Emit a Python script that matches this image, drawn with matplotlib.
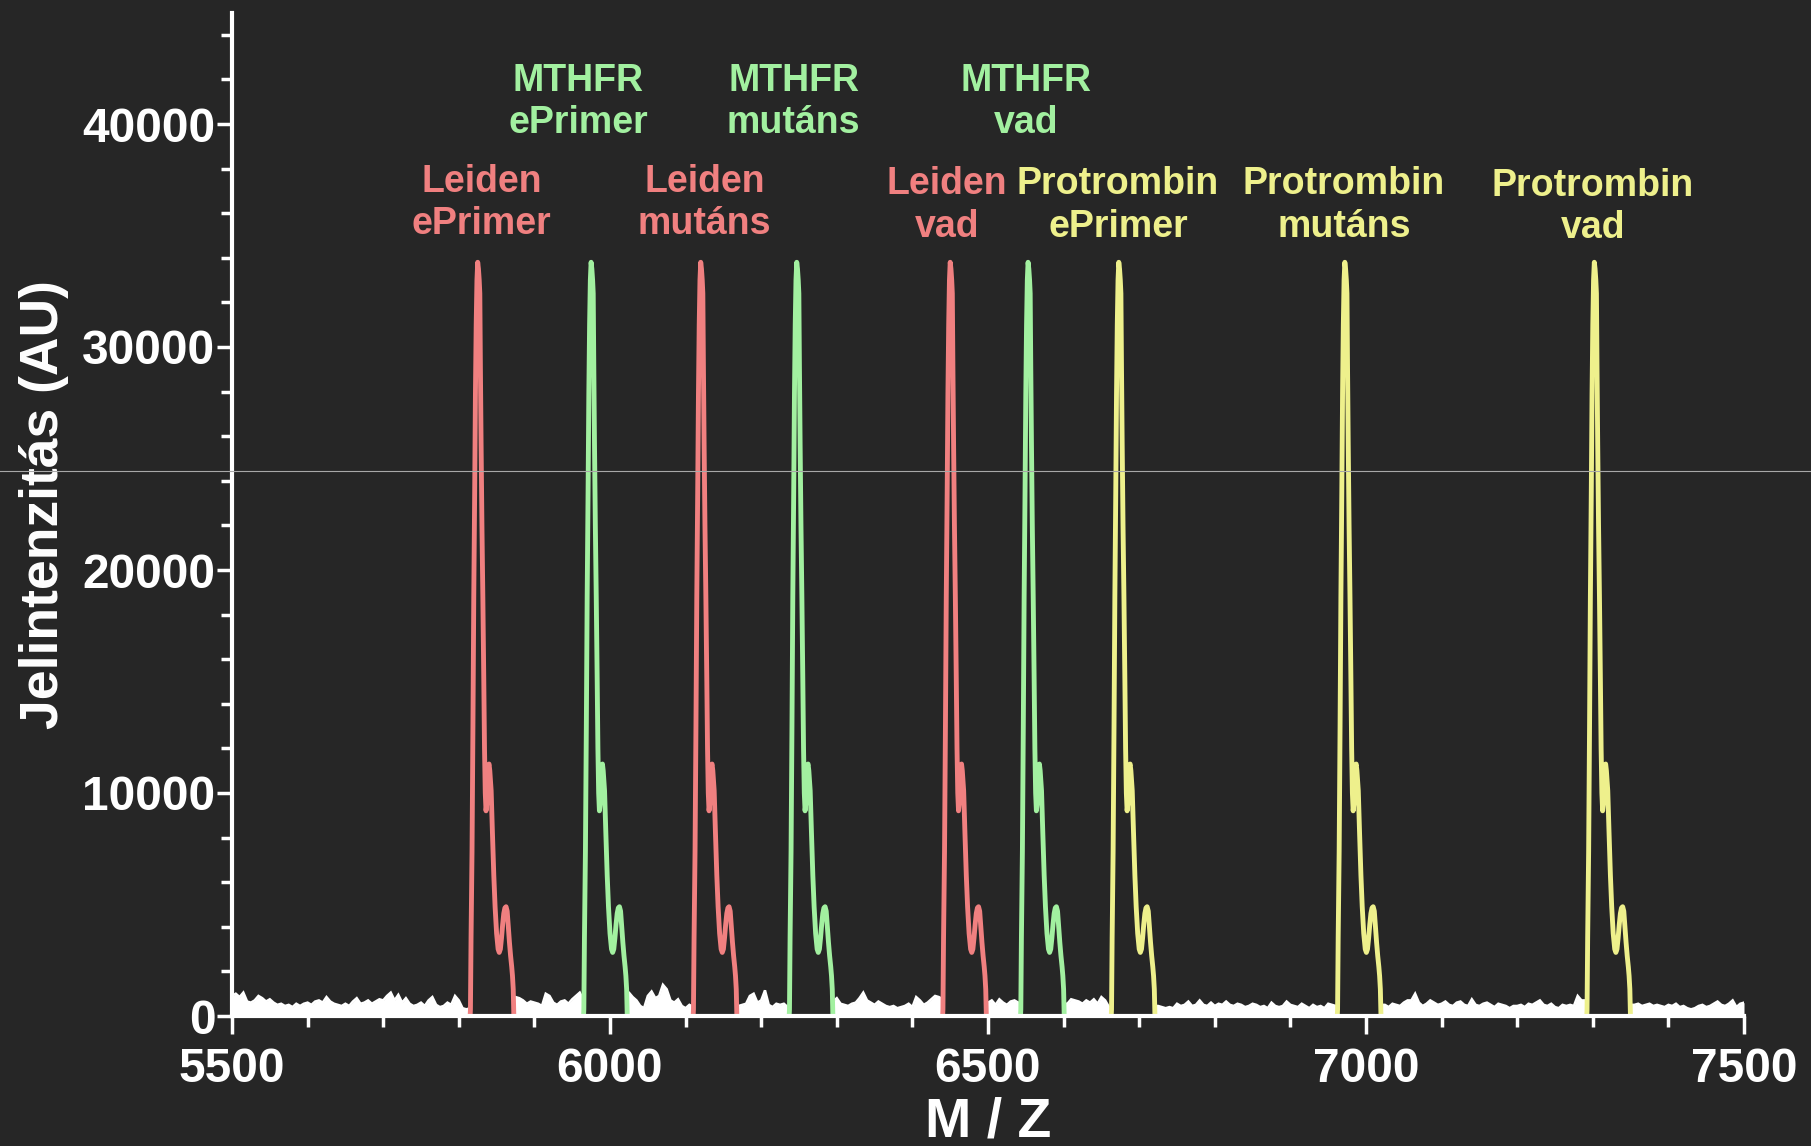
import matplotlib
matplotlib.use("Agg")
import matplotlib.pyplot as plt
from matplotlib.lines import Line2D
from matplotlib.ticker import MultipleLocator
import numpy as np

plt.rcParams["font.family"] = ["Liberation Sans", "DejaVu Sans"]
plt.rcParams["font.weight"] = "bold"

# ---- data -------------------------------------------------------------
# apex position (m/z) of every extension product
PEAK_MZ = [5825, 5975, 6120, 6247, 6450, 6553, 6673, 6972, 7302]
PEAK_NAMES = ["Leiden\nePrimer", "MTHFR\nePrimer", "Leiden\nmutáns",
              "MTHFR\nmutáns", "Leiden\nvad", "MTHFR\nvad",
              "Protrombin\nePrimer", "Protrombin\nmutáns", "Protrombin\nvad"]
PEAK_GROUP = ["Leiden", "MTHFR", "Leiden", "MTHFR", "Leiden", "MTHFR",
              "Protrombin", "Protrombin", "Protrombin"]

# common peak shape: offset from apex (m/z) and signal (AU)
PROFILE_DMZ = [-10.0, -9.6, -8.8, -7.5, -6.3, -5.2, -4.0, -3.0, -2.0, -1.0,
               0.0, 1.0, 2.0, 2.8, 3.6, 4.5, 5.6, 6.8, 8.0, 9.0, 10.0, 11.0,
               12.0, 13.0, 14.0, 15.0, 16.0, 17.0, 17.8, 19.5, 21.3, 23.0,
               25.0, 27.0, 28.5, 30.0, 31.5, 33.0, 34.5, 36.0, 37.5, 39.0,
               40.5, 42.0, 43.5, 45.0, 46.0, 47.0, 47.8]
PROFILE_AU = [0, 300, 3500, 7400, 13000, 18800, 23500, 27900, 31000, 33000,
              33800, 33500, 33000, 32400, 29000, 25600, 22000, 18800, 15200,
              12000, 10000, 9200, 9500, 10600, 11200, 11300, 11000, 10500,
              10100, 8200, 6300, 4900, 3700, 3000, 2850, 3000, 3500, 4100,
              4600, 4850, 4900, 4700, 4000, 3300, 2700, 2200, 1800, 1200, 0]

# baseline noise (AU) between the peaks, one value every 5 m/z
NOISE_STEP = 5
NOISE_START = [5500, 5875, 6025, 6170, 6295, 6500, 6605, 6725, 7025, 7355]
NOISE_A = [900, 1000, 850, 1050, 650, 600, 700, 900, 800, 650, 750, 600, 500,
           550, 450, 500, 400, 550, 450, 550, 600, 500, 650, 700, 600, 850,
           650, 550, 500, 450, 550, 450, 650, 800, 550, 600, 700, 550, 650,
           750, 700, 900, 1050, 700, 950, 600, 800, 550, 450, 500, 600, 450,
           700, 850, 500, 400, 450, 600, 500, 900, 700, 350, 300, 350]
NOISE_B = [850, 800, 700, 550, 650, 600, 550, 450, 1000, 900, 600, 500, 650,
           700, 550, 750, 900, 1050, 700]
NOISE_C = [1050, 850, 700, 450, 350, 900, 1100, 800, 900, 1400, 1200, 700,
           600, 750, 450, 350, 500, 400]
NOISE_D = [450, 500, 550, 900, 1000, 600, 700, 1150, 500, 400, 550, 500,
           550, 400]
NOISE_E = [650, 800, 550, 500, 450, 550, 600, 800, 1050, 700, 600, 500, 650,
           550, 450, 400, 450, 350, 400, 450, 550, 400, 850, 700, 500, 600,
           750, 900, 850, 750]
NOISE_F = [600, 700, 500, 750, 600, 500, 650, 700, 600]
NOISE_G = [550, 750, 700, 650, 550, 700, 600, 750, 550, 850, 700, 400]
NOISE_H = [450, 400, 350, 400, 350, 550, 450, 500, 650, 450, 500, 700, 500,
           450, 600, 450, 550, 500, 650, 500, 450, 550, 500, 400, 450, 550,
           500, 400, 450, 350, 600, 450, 400, 450, 650, 500, 450, 400, 550,
           450, 350, 500, 400, 450, 350, 550, 500, 450]
NOISE_I = [500, 400, 550, 500, 450, 600, 700, 700, 1000, 600, 450, 550, 700,
           600, 500, 550, 650, 500, 450, 600, 650, 500, 450, 750, 500, 450,
           550, 600, 500, 400, 550, 500, 450, 350, 450, 450, 500, 400, 550,
           500, 600, 700, 500, 450, 550, 400, 350, 500, 450, 500, 450, 900,
           700]
NOISE_J = [500, 550, 450, 500, 550, 450, 500, 450, 400, 500, 450, 550, 400,
           450, 350, 300, 350, 450, 500, 400, 450, 550, 650, 500, 450, 550,
           700, 400, 550, 600]
NOISE_VALUES = [NOISE_A, NOISE_B, NOISE_C, NOISE_D, NOISE_E, NOISE_F,
                NOISE_G, NOISE_H, NOISE_I, NOISE_J]

X_TICKS = [5500, 6000, 6500, 7000, 7500]
Y_TICKS = [0, 10000, 20000, 30000, 40000]

# ---- styling ----------------------------------------------------------
BG = "#262626"
GROUP_COLOR = {"Leiden": "#F08080", "MTHFR": "#A2F0A0", "Protrombin": "#EEF08C"}
# label anchor (m/z, AU of the last line's baseline)
LABEL_X = [5830, 5958, 6125, 6243, 6446, 6550, 6672, 6971, 7300]
LABEL_Y = [35050, 39600, 35050, 39600, 34950, 39600, 34950, 34950, 34900]

W, H = 1811, 1146
fig = plt.figure(figsize=(W / 100, H / 100), dpi=100, facecolor=BG)
ax = fig.add_axes([232 / W, 1 - 1016 / H, (1744 - 232) / W, 1003.5 / H])
ax.set_facecolor(BG)

ax.set_xlim(5500, 7500)
ax.set_ylim(0, 45000)

# spans covered by peaks
lo_edges = [m + PROFILE_DMZ[0] for m in PEAK_MZ]
hi_edges = [m + PROFILE_DMZ[-1] for m in PEAK_MZ]
gap_lo = [5500] + hi_edges
gap_hi = lo_edges + [7500]

# white baseline noise
for start, vals, glo, ghi in zip(NOISE_START, NOISE_VALUES, gap_lo, gap_hi):
    x = start + NOISE_STEP * np.arange(len(vals))
    y = np.asarray(vals, dtype=float)
    keep = (x >= glo) & (x <= ghi)
    x, y = x[keep], y[keep]
    x = np.concatenate([[glo], x, [ghi]])
    y = np.concatenate([[y[0]], y, [y[-1]]])
    ax.fill_between(x, 0, y, color="white", lw=0, zorder=2)
    ax.plot(x, y, color="white", lw=1.8, zorder=2, solid_joinstyle="miter")

# coloured peaks
for mz, grp in zip(PEAK_MZ, PEAK_GROUP):
    px = mz + np.asarray(PROFILE_DMZ)
    ax.plot(px, PROFILE_AU, color=GROUP_COLOR[grp], lw=3.5, zorder=3,
            solid_joinstyle="round", solid_capstyle="butt")

# peak labels
for name, grp, lx, ly in zip(PEAK_NAMES, PEAK_GROUP, LABEL_X, LABEL_Y):
    ax.text(lx, ly, name, color=GROUP_COLOR[grp], fontsize=27,
            fontweight="bold", ha="center", va="baseline",
            linespacing=1.22, zorder=4)

# axes decoration
for side in ("top", "right"):
    ax.spines[side].set_visible(False)
for side in ("left", "bottom"):
    ax.spines[side].set_color("white")
    ax.spines[side].set_linewidth(3.0)
    ax.spines[side].set_zorder(5)

ax.set_xticks(X_TICKS)
ax.set_yticks(Y_TICKS)
ax.xaxis.set_minor_locator(MultipleLocator(100))
ax.yaxis.set_minor_locator(MultipleLocator(2000))
ax.tick_params(axis="both", which="both", direction="out", colors="white",
               width=2.5, labelsize=34.5)
ax.tick_params(axis="x", which="major", length=13, pad=9)
ax.tick_params(axis="x", which="minor", length=8)
ax.tick_params(axis="y", which="major", length=11, pad=1)
ax.tick_params(axis="y", which="minor", length=8)
for lab in ax.get_xticklabels() + ax.get_yticklabels():
    lab.set_fontweight("bold")

fig.text(988 / W, 1 - 1137 / H, "M / Z", color="white", fontsize=40,
         fontweight="bold", ha="center", va="baseline")
fig.text(44 / W, 1 - 505 / H, "Jelintenzitás (AU)", color="white",
         fontsize=38.5, fontweight="bold", ha="center", va="center",
         rotation=90)

# thin horizontal scan line across the whole figure
fig.add_artist(Line2D([0, 1], [1 - 471 / H, 1 - 471 / H],
                      transform=fig.transFigure, color="#A8A8A8", lw=0.8,
                      zorder=10))

fig.savefig("out.png", dpi=100, facecolor=BG)
